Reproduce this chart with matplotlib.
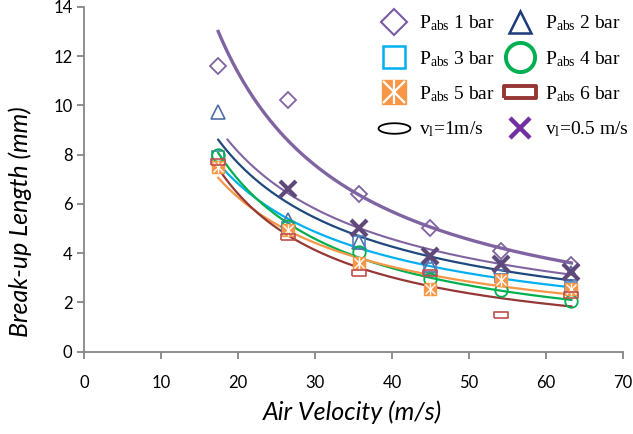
import numpy as np
import matplotlib
matplotlib.use("Agg")
import matplotlib.pyplot as plt
from matplotlib.lines import Line2D
from matplotlib.legend_handler import HandlerTuple

# air velocity (m/s) of each measurement
air_vel = [17.4, 26.5, 35.7, 44.9, 54.1, 63.3]

# break-up length (mm), liquid velocity 1 m/s, one list per absolute pressure
p1 = [11.6, 10.2, 6.4, 5.0, 4.1, 3.5]
p2 = [9.75, 5.35, 4.45, 3.5, 3.45, 3.2]
p3 = [7.9, 5.0, 4.45, 3.35, 3.05, 2.6]
p4 = [8.0, 5.1, 4.05, 2.95, 2.5, 2.05]
p5 = [7.5, 4.95, 3.6, 2.55, 2.9, 2.55]
p6 = [7.7, 4.65, 3.2, 3.2, 1.5, 2.3]

# liquid velocity 0.5 m/s
air_vel_half = [26.5, 35.7, 44.9, 54.1, 63.3]
half = [6.6, 5.0, 3.9, 3.55, 3.25]

plt.rcParams['font.family'] = ['Lato', 'DejaVu Sans']
plt.rcParams['mathtext.fontset'] = 'stix'

fig = plt.figure(figsize=(6.33, 4.34), dpi=100)
ax = fig.add_axes([0.1332, 0.19, 0.851, 0.794])


def power_fit(xs, ys, x0=None, x1=None):
    # power-law trendline y = a*x^b, fitted in log space
    b, lna = np.polyfit(np.log(xs), np.log(ys), 1)
    x0 = xs[0] if x0 is None else x0
    x1 = xs[-1] if x1 is None else x1
    xx = np.linspace(x0, x1, 200)
    return xx, np.exp(lna) * xx ** b


# trendlines
for xs, ys, c, lw, lo in [
    (air_vel, p1, '#8064A2', 2.4, None),
    (air_vel_half, half, '#8064A2', 1.5, 18.6),
    (air_vel, p2, '#1F497D', 1.6, None),
    (air_vel, p3, '#00B0F0', 1.6, None),
    (air_vel, p4, '#00B050', 1.6, None),
    (air_vel, p5, '#F79646', 1.6, None),
    (air_vel, p6, '#953735', 1.6, None),
]:
    fx, fy = power_fit(np.array(xs), np.array(ys), x0=lo)
    ax.plot(fx, fy, color=c, lw=lw, zorder=2)

rect = [(-1, -0.38), (1, -0.38), (1, 0.38), (-1, 0.38), (-1, -0.38)]
t = np.linspace(0, 2 * np.pi, 60)
ellipse = list(zip(np.cos(t), 0.33 * np.sin(t)))

# measured points
ax.plot(air_vel, p1, ls='none', marker='D', ms=8, mfc='none', mec='#8064A2', mew=1.3, zorder=3)
ax.plot(air_vel, p2, ls='none', marker='^', ms=10, mfc='none', mec='#4F6FA8', mew=1.2, zorder=3)
ax.plot(air_vel, p3, ls='none', marker='s', ms=9, mfc='none', mec='#4F81BD', mew=1.2, zorder=3)
ax.plot(air_vel, p4, ls='none', marker='o', ms=9, mfc='none', mec='#00B050', mew=1.3, zorder=3)
ax.plot(air_vel, p5, ls='none', marker='s', ms=8, mfc='#F79646', mec='#F79646', zorder=3)
ax.plot(air_vel, p5, ls='none', marker='x', ms=7, mec='white', mew=1.0, zorder=3)
ax.plot(air_vel, p5, ls='none', marker='|', ms=8, mec='white', mew=1.0, zorder=3)
ax.plot(air_vel, p6, ls='none', marker=rect, ms=10, mfc='none', mec='#C0504D', mew=1.2, zorder=3)
ax.plot(air_vel_half, half, ls='none', marker='x', ms=12, mec='#5F497A', mew=3, zorder=4)

ax.set_xlim(0, 70)
ax.set_ylim(0, 14)
ax.set_xticks(range(0, 71, 10))
ax.set_yticks(range(0, 15, 2))
for s in ['top', 'right']:
    ax.spines[s].set_visible(False)
for s in ['left', 'bottom']:
    ax.spines[s].set_color('#868686')
    ax.spines[s].set_linewidth(1.3)
ax.tick_params(colors='#868686', width=1.3, length=5, labelcolor='black', labelsize=12)
ax.tick_params(axis='x', pad=12)

fig.text(352 / 633, 1 - 412 / 434, 'Air Velocity (m/s)', style='italic',
         fontsize=18, ha='center', va='center')
fig.text(20 / 633, 1 - 222 / 434, 'Break-up Length (mm)', style='italic',
         fontsize=18, ha='center', va='center', rotation=90)

# legend
def mk(**kw):
    return Line2D([], [], ls='none', **kw)

h_p5 = (mk(marker='s', ms=17, mfc='#F79646', mec='#F79646'),
        mk(marker='x', ms=16, mec='white', mew=1.6),
        mk(marker='|', ms=17, mec='white', mew=1.6))
handles = [
    mk(marker='D', ms=13, mfc='none', mec='#7B5BA6', mew=1.5),
    mk(marker='s', ms=16, mfc='none', mec='#00B0F0', mew=1.8),
    h_p5,
    mk(marker=ellipse, ms=23, mfc='none', mec='black', mew=1.3),
    mk(marker='^', ms=16, mfc='none', mec='#1F3A7A', mew=1.8),
    mk(marker='o', ms=21, mfc='none', mec='#00B050', mew=2.8),
    mk(marker=rect, ms=23, mfc='none', mec='#953735', mew=2.8),
    mk(marker='x', ms=15, mec='#7030A0', mew=3.2),
]
labels = [
    r'$\mathregular{P_{abs}}$ 1 bar',
    r'$\mathregular{P_{abs}}$ 3 bar',
    r'$\mathregular{P_{abs}}$ 5 bar',
    r'$\mathregular{v_{l}}$=1m/s',
    r'$\mathregular{P_{abs}}$ 2 bar',
    r'$\mathregular{P_{abs}}$ 4 bar',
    r'$\mathregular{P_{abs}}$ 6 bar',
    r'$\mathregular{v_{l}}$=0.5 m/s',
]
fig.legend(handles, labels, ncol=2, frameon=False, loc='upper left',
           bbox_to_anchor=(366 / 633, 1 - 0 / 434),
           prop={'family': 'Liberation Serif', 'size': 14},
           handler_map={tuple: HandlerTuple(ndivide=1)},
           handlelength=1.5, handletextpad=0.55, columnspacing=0.5,
           labelspacing=0.8, borderpad=0.2)

fig.savefig('out.png', dpi=100)
